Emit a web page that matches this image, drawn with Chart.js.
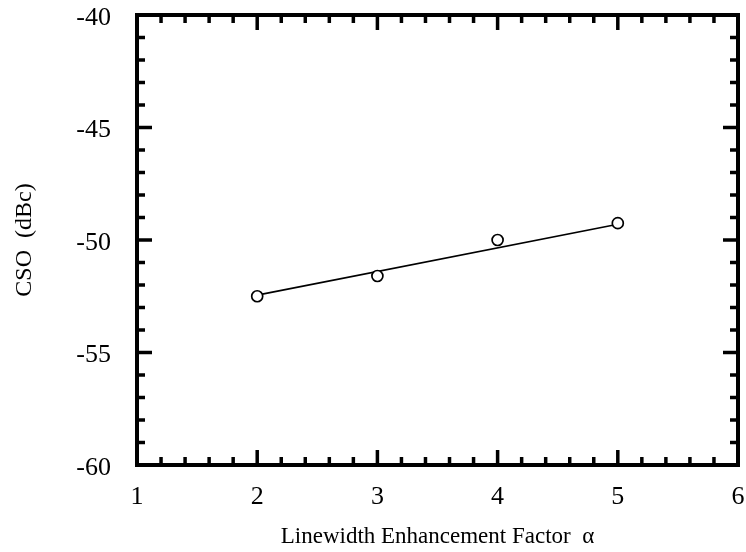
<!DOCTYPE html>
<html>
<head>
<meta charset="utf-8">
<script src="https://cdn.jsdelivr.net/npm/chart.js@4/dist/chart.umd.min.js"></script>
<style>
  html, body { margin: 0; padding: 0; background: #fff; }
  canvas { display: block; }
</style>
</head>
<body>
<canvas id="csoChart" width="746" height="552"></canvas>
<script>
// measured CSO vs. linewidth enhancement factor
const alpha = [2, 3, 4, 5];
const cso = [-52.5, -51.6, -50.0, -49.25];

// straight-line fit through the measurements
const fitAlpha = [2, 5];
const fitCso = [-52.45, -49.3];

// axis labels
const xTicks = [1, 2, 3, 4, 5, 6];
const yTicks = [-60, -55, -50, -45, -40];
const xMinorPerMajor = 5;
const yMinorPerMajor = 5;

const serif = '"Liberation Serif", "Times New Roman", serif';

// keep the plot box fixed: no extra room for overhanging end labels
function fixBox(s, size) {
    if (s.isHorizontal()) s.height = size; else s.width = size;
    s.paddingTop = s.paddingBottom = s.paddingLeft = s.paddingRight = 0;
}

// inward tick marks on all four sides plus the heavy box
const frameTicks = {
    id: 'frameTicks',
    afterDatasetsDraw(chart) {
        const { ctx, chartArea: a, scales: { x, y } } = chart;
        const line = (x0, y0, x1, y1) => {
            ctx.beginPath();
            ctx.moveTo(x0, y0);
            ctx.lineTo(x1, y1);
            ctx.stroke();
        };
        ctx.save();
        ctx.strokeStyle = '#000';
        ctx.lineCap = 'butt';
        ctx.lineWidth = 3.5;

        const xStep = (xTicks[1] - xTicks[0]) / xMinorPerMajor;
        const xCount = (xTicks[xTicks.length - 1] - xTicks[0]) / xStep;
        for (let i = 1; i < xCount; i++) {
            const px = x.getPixelForValue(xTicks[0] + i * xStep);
            const len = i % xMinorPerMajor === 0 ? 15 : 8;
            line(px, a.top, px, a.top + len);
            line(px, a.bottom, px, a.bottom - len);
        }

        const yStep = (yTicks[1] - yTicks[0]) / yMinorPerMajor;
        const yCount = (yTicks[yTicks.length - 1] - yTicks[0]) / yStep;
        for (let i = 1; i < yCount; i++) {
            const py = y.getPixelForValue(yTicks[0] + i * yStep);
            const len = i % yMinorPerMajor === 0 ? 15 : 8;
            line(a.left, py, a.left + len, py);
            line(a.right, py, a.right - len, py);
        }

        ctx.lineWidth = 4;
        ctx.strokeRect(a.left, a.top, a.right - a.left, a.bottom - a.top);
        ctx.restore();
    }
};

const ctx = document.getElementById('csoChart').getContext('2d');

new Chart(ctx, {
    type: 'scatter',
    data: {
        datasets: [
            {
                label: 'measured',
                data: alpha.map((a, i) => ({ x: a, y: cso[i] })),
                showLine: false,
                pointStyle: 'circle',
                pointRadius: 5.5,
                pointBorderWidth: 1.7,
                pointBorderColor: '#000',
                pointBackgroundColor: '#fff',
                order: 0
            },
            {
                label: 'fit',
                data: fitAlpha.map((a, i) => ({ x: a, y: fitCso[i] })),
                showLine: true,
                borderColor: '#000',
                borderWidth: 1.7,
                pointRadius: 0,
                fill: false,
                order: 1
            }
        ]
    },
    options: {
        responsive: false,
        animation: false,
        layout: { padding: { left: 0, right: 8, top: 15, bottom: 0 } },
        plugins: {
            legend: { display: false },
            tooltip: { enabled: false }
        },
        scales: {
            x: {
                type: 'linear',
                min: xTicks[0],
                max: xTicks[xTicks.length - 1],
                afterBuildTicks: s => { s.ticks = xTicks.map(v => ({ value: v })); },
                afterFit: s => fixBox(s, 87),
                grid: { display: false, drawTicks: false },
                border: { display: false },
                ticks: {
                    padding: 17,
                    color: '#000',
                    font: { family: serif, size: 26 }
                },
                title: {
                    display: true,
                    text: 'Linewidth Enhancement Factor  α',
                    color: '#000',
                    font: { family: serif, size: 23, lineHeight: 1 },
                    padding: { top: 0, bottom: 4 }
                }
            },
            y: {
                type: 'linear',
                min: yTicks[0],
                max: yTicks[yTicks.length - 1],
                afterBuildTicks: s => { s.ticks = yTicks.map(v => ({ value: v })); },
                afterFit: s => fixBox(s, 137),
                grid: { display: false, drawTicks: false },
                border: { display: false },
                ticks: {
                    padding: 26,
                    labelOffset: 3,
                    color: '#000',
                    font: { family: serif, size: 26 }
                },
                title: {
                    display: true,
                    text: 'CSO  (dBc)',
                    color: '#000',
                    font: { family: serif, size: 24, lineHeight: 1 },
                    padding: { top: 13, bottom: 0 }
                }
            }
        }
    },
    plugins: [frameTicks]
});
</script>
</body>
</html>
